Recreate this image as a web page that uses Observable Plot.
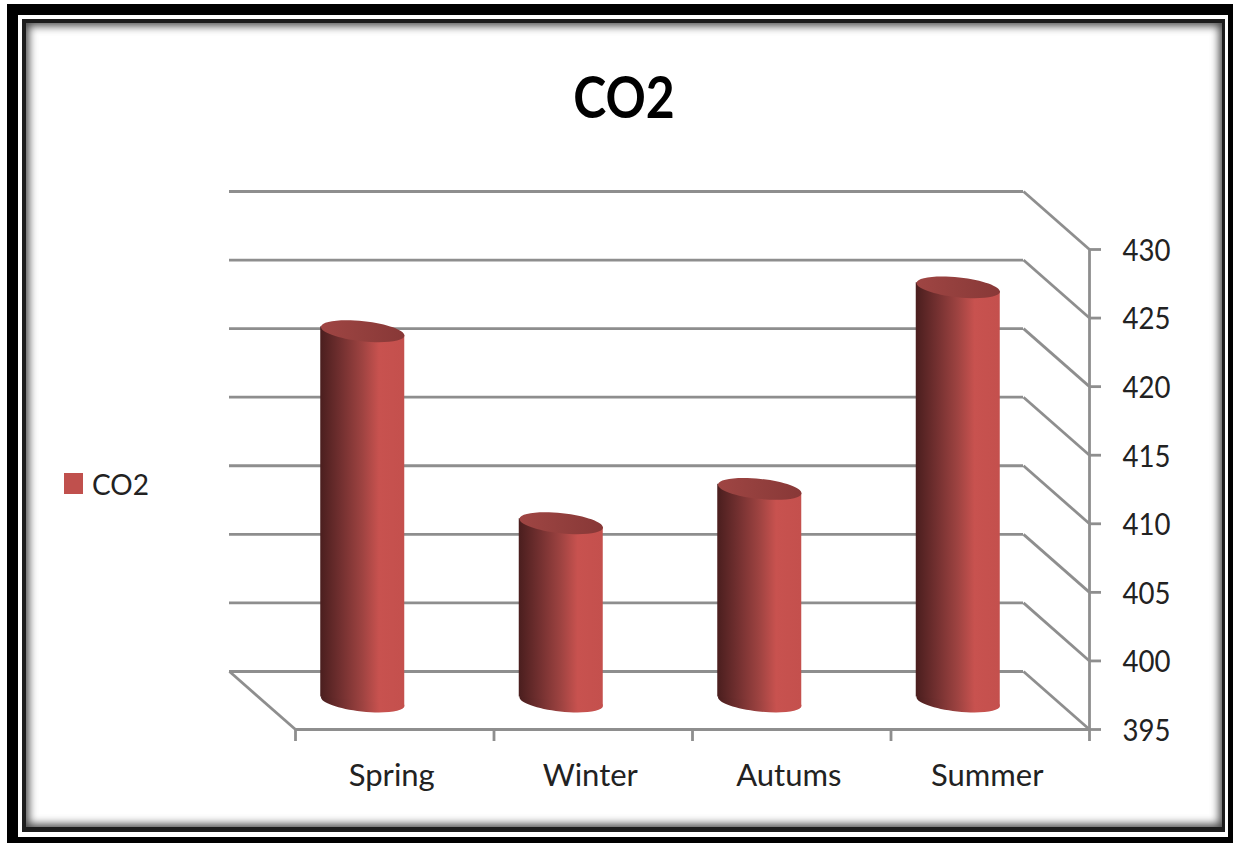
<!DOCTYPE html>
<html>
<head>
<meta charset="utf-8">
<script src="https://cdn.jsdelivr.net/npm/d3@7"></script>
<script src="https://cdn.jsdelivr.net/npm/@observablehq/plot@0.6"></script>
<style>
  html, body { margin: 0; padding: 0; background: #fff; overflow: hidden; }
  #page { position: relative; width: 1233px; height: 843px; font-family: Lato, "Open Sans", sans-serif; overflow: hidden; }
  .band { position: absolute; box-sizing: border-box; }
  #outer { left: 7px; top: 4px; width: 1240px; height: 860px; background: #000; }
  #gap { left: 18px; top: 15px; width: 1210px; height: 822px; background: #fff; }
  #edge { left: 22px; top: 19px; width: 1203px; height: 813px; background: #1c1c1c; }
  #panel { left: 26px; top: 23px; width: 1196px; height: 804px; background: #fff; box-shadow: inset 0 0 9px 3px #4a4a4a; }
  #chart { position: absolute; left: 0; top: 0; }
  #title { position: absolute; left: 0; width: 1248px; top: 58px; text-align: center; font-size: 58px; font-weight: 700; line-height: 76px; color: #000; transform: scaleX(0.86); }
  #legend { position: absolute; left: 64px; top: 473px; display: flex; align-items: center; height: 21px; font-size: 28px; color: #222; }
  #legend i { display: block; width: 19px; height: 21px; background: #c0504d; margin-right: 9px; }
</style>
</head>
<body>
<div id="page">
  <div class="band" id="outer"></div>
  <div class="band" id="gap"></div>
  <div class="band" id="edge"></div>
  <div class="band" id="panel"></div>
  <div id="chart"></div>
  <div id="title">CO2</div>
  <div id="legend"><i></i><span>CO2</span></div>
</div>
<script>
// Seasonal CO2 readings, drawn as a 3D-style cylinder column chart
const seasons = ["Spring", "Winter", "Autums", "Summer"];
const co2 = [422, 408, 410.5, 425.2];
const yTicks = [395, 400, 405, 410, 415, 420, 425, 430];
const xEdges = [0, 1, 2, 3, 4];

const rows = seasons.map((season, i) => ({season, i, value: co2[i]}));

// Depth of the box, in scale units: how far the back wall sits from the front plane
const depthX = 0.3325;
const depthY = 4.23;
const radius = 42 / 198.5;
const lineColor = "#8e8e8e";

// Tilted ellipse, used as a custom dot symbol for cylinder caps and bases
const tilt = 6.2 * Math.PI / 180;
const ellipse = {
  draw(ctx) {
    const rx = 42, ry = 10, k = 0.5523;
    const c = Math.cos(tilt), s = Math.sin(tilt);
    const p = (a, b) => [a * c - b * s, a * s + b * c];
    ctx.moveTo(...p(rx, 0));
    ctx.bezierCurveTo(...p(rx, k * ry), ...p(k * rx, ry), ...p(0, ry));
    ctx.bezierCurveTo(...p(-k * rx, ry), ...p(-rx, k * ry), ...p(-rx, 0));
    ctx.bezierCurveTo(...p(-rx, -k * ry), ...p(-k * rx, -ry), ...p(0, -ry));
    ctx.bezierCurveTo(...p(k * rx, -ry), ...p(rx, -k * ry), ...p(rx, 0));
    ctx.closePath();
  }
};

// Shared gradients for the cylinder side and cap
function gradients() {
  const defs = d3.create("svg:defs");
  const side = defs.append("linearGradient").attr("id", "side");
  [[0, "#4a1e1e"], [0.25, "#733030"], [0.5, "#9e4341"], [0.7, "#c8524f"], [1, "#c4504d"]]
    .forEach(([o, c]) => side.append("stop").attr("offset", o).attr("stop-color", c));
  const cap = defs.append("linearGradient").attr("id", "cap");
  [[0, "#9f4543"], [0.5, "#933f3d"], [1, "#883837"]]
    .forEach(([o, c]) => cap.append("stop").attr("offset", o).attr("stop-color", c));
  return defs.node();
}

const shift = {dx: -32, dy: -28};

const plot = Plot.plot({
  width: 1233,
  height: 843,
  marginTop: 249,
  marginBottom: 114,
  marginLeft: 295,
  marginRight: 144,
  style: {background: "transparent", fontFamily: "Lato, 'Open Sans', sans-serif"},
  x: {type: "linear", domain: [0, 4], axis: null},
  y: {type: "linear", domain: [395, 430], axis: null},
  marks: [
    gradients,
    // Back wall gridlines and the diagonals that bring them to the front axis
    Plot.ruleY(yTicks, {y: d => d + depthY, x1: -depthX, x2: 4 - depthX, stroke: lineColor, strokeWidth: 2.8}),
    Plot.link(yTicks, {x1: 4 - depthX, y1: d => d + depthY, x2: 4, y2: d => d, stroke: lineColor, strokeWidth: 2.8}),
    // Floor: left edge and front edge
    Plot.link([395], {x1: -depthX, y1: d => d + depthY, x2: 0, y2: d => d, stroke: lineColor, strokeWidth: 2.8}),
    Plot.ruleY([395], {x1: 0, x2: 4, stroke: lineColor, strokeWidth: 2.8}),
    Plot.ruleX([4], {y1: 395, y2: 430, stroke: lineColor, strokeWidth: 2.8}),
    // Axes
    Plot.axisY({
      anchor: "right", ticks: yTicks, tickSize: 11, tickPadding: 22, label: null,
      fontSize: 31, stroke: lineColor, strokeWidth: 2.8, fill: "#222", textStroke: "none"
    }),
    Plot.axisX({
      ticks: xEdges, tickSize: 12, tickFormat: () => "", label: null,
      stroke: lineColor, strokeWidth: 2.8
    }),
    Plot.text(rows, {
      x: d => d.i + 0.5, y: () => 395, text: "season", dx: -3, dy: 47,
      fontSize: 31, fill: "#222", textAnchor: "middle"
    }),
    // Cylinders: base, side, cap
    Plot.dot(rows, {
      x: d => d.i + 0.5, y: () => 395, symbol: ellipse, r: 10,
      fill: "url(#side)", stroke: "none", ...shift
    }),
    Plot.rect(rows, {
      x1: d => d.i + 0.5 - radius, x2: d => d.i + 0.5 + radius,
      y1: () => 395, y2: "value",
      fill: "url(#side)", ...shift
    }),
    Plot.dot(rows, {
      x: d => d.i + 0.5, y: "value", symbol: ellipse, r: 10,
      fill: "url(#cap)", stroke: "none", ...shift
    })
  ]
});

// Shear each side so its ends meet the tilted cap and base
d3.select(plot).selectAll('g[aria-label="rect"] rect')
  .style("transform-box", "fill-box")
  .style("transform-origin", "center")
  .style("transform", `skewY(${tilt}rad)`);

// Narrow the value labels to the condensed width of the chart's typeface
d3.select(plot).selectAll('g[aria-label="y-axis tick label"] text')
  .attr("textLength", 48)
  .attr("lengthAdjust", "spacingAndGlyphs")
  .attr("y", 11.4);

document.getElementById("chart").appendChild(plot);
</script>
</body>
</html>
